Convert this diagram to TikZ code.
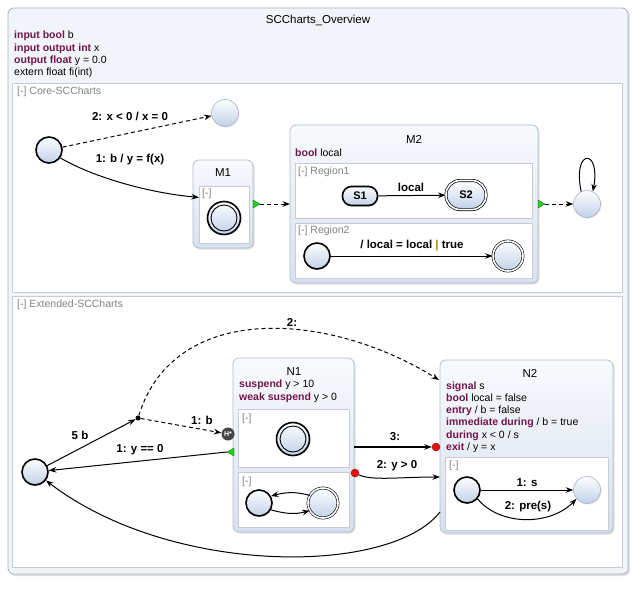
\documentclass[tikz,border=0pt]{standalone}
\usepackage{fontspec}
\setmainfont{Liberation Sans}
\usetikzlibrary{arrows.meta,shadows,calc}
\definecolor{kwc}{RGB}{115,20,75}
\definecolor{graytxt}{RGB}{130,130,130}
\definecolor{boxdraw}{RGB}{178,190,210}
\definecolor{boxtop}{RGB}{248,250,253}
\definecolor{boxbot}{RGB}{216,225,239}
\definecolor{sttop}{RGB}{253,254,255}
\definecolor{stbot}{RGB}{194,209,232}
\definecolor{stedge}{RGB}{170,180,198}
\definecolor{regdraw}{RGB}{198,203,212}
\definecolor{outdraw}{RGB}{175,178,185}
\definecolor{outfill}{RGB}{241,244,249}
\definecolor{trig}{RGB}{40,205,40}
\definecolor{reddot}{RGB}{225,20,20}
\definecolor{hgray}{RGB}{70,70,70}
\definecolor{pipec}{RGB}{175,130,0}
\newcommand{\kwd}[1]{{\color{kwc}\bfseries #1}}
\begin{document}
\begin{tikzpicture}[x=1pt,y=-1pt,
  lbl/.style={font=\fontsize{11.5}{13}\selectfont\bfseries, inner sep=0pt},
  decl/.style={font=\fontsize{10.5}{12.3}\selectfont, inner sep=0pt, anchor=base west},
  reglbl/.style={font=\fontsize{10.5}{12}\selectfont, text=graytxt, inner sep=0pt, anchor=west},
  ttl/.style={font=\fontsize{11.5}{13}\selectfont, inner sep=0pt},
  outerbox/.style={draw=outdraw, fill=outfill, rounded corners=6pt, line width=0.8pt, inner sep=0pt, outer sep=0pt,
     drop shadow={shadow xshift=2pt, shadow yshift=-2pt, opacity=0.25}},
  statebox/.style={draw=boxdraw, rounded corners=6pt, top color=boxtop, bottom color=boxbot, line width=0.8pt,
     inner sep=0pt, outer sep=0pt, drop shadow={shadow xshift=1.5pt, shadow yshift=-1.5pt, opacity=0.25}},
  region/.style={draw=regdraw, fill=white, line width=0.6pt, inner sep=0pt, outer sep=0pt},
  stbase/.style={circle, inner sep=0pt, top color=sttop, bottom color=stbot,
     drop shadow={shadow xshift=1pt, shadow yshift=-1pt, opacity=0.2}},
  plain/.style={stbase, minimum size=27pt, draw=stedge, line width=0.6pt},
  init/.style={stbase, minimum size=26pt, draw=black, line width=1.6pt},
  finthick/.style={stbase, minimum size=33pt, draw=black, line width=1.6pt,
     path picture={\draw[line width=0.9pt] (path picture bounding box.center) circle (13pt);}},
  finthin/.style={stbase, minimum size=30pt, draw=black, line width=0.6pt, double=white, double distance=1.6pt},
  edge/.style={draw, line width=1pt, -{Stealth[length=7.5pt,width=5.5pt]}},
  dedge/.style={edge, dash pattern=on 4pt off 3pt},
  rdot/.style={circle, fill=reddot, draw=red!60!black, line width=0.4pt, minimum size=8pt, inner sep=0pt},
]
\useasboundingbox (0,0) rectangle (639,594);

% ---------- outer box ----------
\node[outerbox, minimum width=620pt, minimum height=566pt] (ov) at (318,291) {};
\node[ttl] (ovt) at (318,20) {SCCharts\_Overview};
\node[decl] (d1) at (14,39) {\kwd{input bool} b};
\node[decl] (d2) at (14,51.3) {\kwd{input output int} x};
\node[decl] (d3) at (14,63.6) {\kwd{output float} y = 0.0};
\node[decl] (d4) at (14,75.9) {extern float fi(int)};

\node[region, minimum width=610pt, minimum height=209pt] (core) at (317,187.5) {};
\node[reglbl] (corel) at (17,92) {[-] Core-SCCharts};
\node[region, minimum width=610pt, minimum height=271pt] (ext) at (317,431.5) {};
\node[reglbl] (extl) at (17,305) {[-] Extended-SCCharts};

% ---------- Core-SCCharts ----------
\node[init] (A) at (49,150) {};
\node[plain] (B) at (225,113) {};

\node[statebox, minimum width=60pt, minimum height=88pt] (M1) at (223,204) {};
\node[ttl] (M1t) at (223,173) {M1};
\node[region, minimum width=50pt, minimum height=57pt] (M1r) at (224,214.5) {};
\node[reglbl] (M1rl) at (202,194) {[-]};
\node[finthick] (F1) at (224,218) {};

\node[statebox, minimum width=248pt, minimum height=158pt] (M2) at (414,204) {};
\node[ttl] (M2t) at (414,139) {M2};
\node[decl] (M2d) at (295,156) {\kwd{bool} local};
\node[region, minimum width=237pt, minimum height=55pt] (R1) at (413.5,190.5) {};
\node[reglbl] (R1l) at (298,172) {[-] Region1};
\node[draw=black, line width=1.6pt, rounded corners=9pt, minimum width=35pt, minimum height=19pt, inner sep=0pt,
      top color=sttop, bottom color=stbot, font=\fontsize{11}{12}\selectfont\bfseries,
      drop shadow={shadow xshift=1pt, shadow yshift=-1pt, opacity=0.2}] (S1) at (360,196) {S1};
\node[draw=black, line width=0.7pt, double=white, double distance=1.6pt, rounded corners=14pt, minimum width=40pt,
      minimum height=29pt, inner sep=0pt, top color=sttop, bottom color=stbot, font=\fontsize{11}{12}\selectfont\bfseries,
      drop shadow={shadow xshift=1pt, shadow yshift=-1pt, opacity=0.2}] (S2) at (466,195) {S2};
\draw[edge] (S1) -- (S2);
\node[lbl] (lS) at (411,187) {local};

\node[region, minimum width=237pt, minimum height=55pt] (R2) at (413.5,250.5) {};
\node[reglbl] (R2l) at (298,231) {[-] Region2};
\node[init] (I2) at (317,256) {};
\node[finthin] (F2) at (508,256) {};
\draw[edge] (I2) -- (F2);
\node[lbl] (lR2) at (412,246) {/ local = local {\color{pipec}|} true};

\node[plain] (C) at (587,204) {};

% transitions core
\draw[dedge] (A) -- (B);
\node[lbl] (lAB) at (130,116) {2: x < 0 / x = 0};
\draw[edge] (A.-35) .. controls (95,178) and (150,193) .. ($(M1r.north west)!0.2!(M1r.south west)$);
\node[lbl] (lAM) at (130,160) {1: b / y = f(x)};

\fill[trig, draw=green!40!black, line width=0.3pt] (M1.east) ++(0,-4) -- ++(7,4) -- ++(-7,4) -- cycle;
\coordinate (t1) at ($(M1.east)+(7,0)$);
\draw[dedge] (t1) -- (M1.east -| M2.west);
\fill[trig, draw=green!40!black, line width=0.3pt] (M2.east) ++(0,-4) -- ++(7,4) -- ++(-7,4) -- cycle;
\coordinate (t2) at ($(M2.east)+(7,0)$);
\draw[dedge] (t2) -- (C);
\draw[edge] (C.115) .. controls (572,148) and (601,148) .. (C.65);

% ---------- Extended-SCCharts ----------
\node[init] (D) at (35,472) {};
\node[circle, fill=black, minimum size=5pt, inner sep=0pt] (J) at (138,418) {};

\node[statebox, minimum width=121pt, minimum height=174pt] (N1) at (293.5,445) {};
\node[ttl] (N1t) at (294,372) {N1};
\node[decl] (N1d1) at (239,387) {\kwd{suspend} y > 10};
\node[decl] (N1d2) at (239,400.5) {\kwd{weak suspend} y > 0};
\node[region, minimum width=111pt, minimum height=58pt] (N1r1) at (293.5,438) {};
\node[reglbl] (N1r1l) at (242,419) {[-]};
\node[finthick] (F3) at (293,439) {};
\node[region, minimum width=111pt, minimum height=55pt] (N1r2) at (293.5,499.5) {};
\node[reglbl] (N1r2l) at (242,482) {[-]};
\node[init] (I4) at (259,503) {};
\node[finthin] (F4) at (323,503) {};
\draw[edge] (F4.150) to[out=165,in=15] (I4.30);
\draw[edge] (I4.-30) to[out=-15,in=195] (F4.-150);

\node[statebox, minimum width=173pt, minimum height=173pt] (N2) at (526.5,446.5) {};
\node[ttl] (N2t) at (530,373) {N2};
\node[decl] (N2d1) at (446,389) {\kwd{signal} s};
\node[decl] (N2d2) at (446,401.3) {\kwd{bool} local = false};
\node[decl] (N2d3) at (446,413.6) {\kwd{entry} / b = false};
\node[decl] (N2d4) at (446,425.9) {\kwd{immediate during} / b = true};
\node[decl] (N2d5) at (446,438.2) {\kwd{during} x < 0 / s};
\node[decl] (N2d6) at (446,450.5) {\kwd{exit} / y = x};
\node[region, minimum width=163pt, minimum height=73pt] (N2r) at (526.5,493.5) {};
\node[reglbl] (N2rl) at (449,466) {[-]};
\node[init] (I5) at (467,490) {};
\node[plain] (F5) at (587,490) {};
\draw[edge] (I5) -- (F5);
\node[lbl] (l1s) at (527,483) {1: s};
\draw[edge] (I5.-40) .. controls (500,526) and (550,526) .. (F5.-140);
\node[lbl] (l2s) at (528,507) {2: pre(s)};

\node[circle, fill=hgray, minimum size=13pt, inner sep=0pt, text=white,
      font=\fontsize{7}{7}\selectfont\bfseries] (H) at (228,434) {H*};

% transitions extended
\draw[edge] (D) -- (J);
\node[lbl] (l5b) at (80,435) {5 b};
\draw[dedge] (J) -- (H);
\node[lbl] (l1b) at (202,420) {1: b};
\draw[dedge] (J) .. controls (175,300) and (330,312) .. ($(N2.north west)+(-1,20)$);
\node[lbl] (l2) at (292,322) {2:};

\fill[trig, draw=green!40!black, line width=0.3pt] (234,448) -- (234,456) -- (227,452) -- cycle;
\coordinate (t3) at (227,452);
\draw[edge] (t3) -- (D);
\node[lbl] (l1y) at (140,450) {1: y == 0};

\node[rdot] (rd1) at (436,447) {};
\draw[edge, line width=1.5pt] ($(N1.north east)+(0,89)$) -- (rd1);
\node[lbl] (l3) at (395,437) {3:};

\node[rdot] (rd2) at (355,473) {};
\draw[edge] (rd2) .. controls (372,481) and (400,477) .. ($(N2.north west)+(0,117)$);
\node[lbl] (l2y) at (397,466) {2: y > 0};

\draw[edge] ($(N2.north west)+(0,152)$) .. controls (390,576) and (170,576) .. (D);
\end{tikzpicture}
\end{document}
